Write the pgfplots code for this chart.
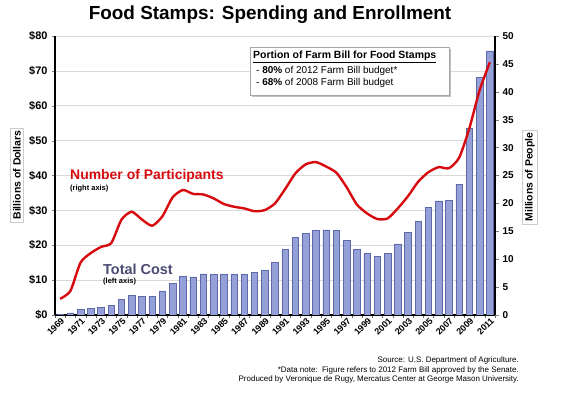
\documentclass[border=0pt]{standalone}
\usepackage{pgfplots}
\usepackage{pgfplotstable}
\pgfplotsset{compat=1.18}
\usepackage{fontspec}
\setmainfont{Liberation Sans}
\definecolor{barfill}{RGB}{148,160,215}
\definecolor{bardraw}{RGB}{95,105,170}
\definecolor{linered}{RGB}{215,10,15}
\definecolor{costcol}{RGB}{75,75,115}
\pgfplotstableread{
year cost people
1969 0.25 2.9
1970 0.58 4.3
1971 1.6 9.4
1972 1.8 11.1
1973 2.2 12.2
1974 2.8 12.9
1975 4.5 17.1
1976 5.6 18.5
1977 5.4 17.1
1978 5.4 16.0
1979 6.9 17.7
1980 9.0 21.1
1981 11.1 22.4
1982 10.9 21.7
1983 11.8 21.6
1984 11.6 20.9
1985 11.6 19.9
1986 11.6 19.4
1987 11.6 19.1
1988 12.3 18.6
1989 12.8 18.8
1990 15.1 20.0
1991 18.7 22.6
1992 22.3 25.4
1993 23.4 27.0
1994 24.3 27.4
1995 24.4 26.6
1996 24.2 25.5
1997 21.3 22.9
1998 18.8 19.8
1999 17.6 18.2
2000 16.9 17.2
2001 17.6 17.3
2002 20.4 19.1
2003 23.6 21.3
2004 26.9 23.9
2005 30.8 25.6
2006 32.7 26.5
2007 32.9 26.3
2008 37.4 28.2
2009 53.4 33.5
2010 68.2 40.3
2011 75.7 45.3
}\datatable
\begin{document}
\begin{tikzpicture}
\useasboundingbox (0,0) rectangle (568bp,393bp);
\begin{axis}[
  at={(55bp,78bp)}, anchor=south west,
  scale only axis, width=440bp, height=279bp,
  xmin=1968.5, xmax=2011.5, ymin=0, ymax=80,
  axis y line*=left, axis x line*=bottom,
  axis line style={black, line width=1.1bp, -},
  ytick={0,10,...,80},
  yticklabels={\$0,\$10,\$20,\$30,\$40,\$50,\$60,\$70,\$80},
  yticklabel style={font=\fontsize{11}{12}\selectfont\bfseries, xshift=-1bp},
  xtick={1969,1971,...,2011},
  minor xtick={1968.5,1969.5,...,2011.5},
  major x tick style={draw=none},
  minor x tick style={black!60},
  /pgf/number format/1000 sep={},
  /pgf/number format/assume math mode=true,
  xticklabel style={rotate=45, anchor=north east, font=\fontsize{9}{9}\selectfont\bfseries, xshift=1.5bp, yshift=1bp, inner sep=0.5bp},
  tick align=outside, major tick length=3bp, minor tick length=3bp,
  ymajorgrids, grid style={black!15, line width=0.6bp},
  ybar, bar width=6.5bp,
]
\addplot[ybar, draw=bardraw, line width=0.6bp, fill=barfill] table[x=year, y=cost] {\datatable};
\end{axis}
\begin{axis}[
  at={(55bp,78bp)}, anchor=south west,
  scale only axis, width=440bp, height=279bp,
  xmin=1968.5, xmax=2011.5, ymin=0, ymax=50,
  axis x line=none, axis y line*=right,
  axis line style={black, line width=1.1bp, -},
  ytick={0,5,...,50},
  /pgf/number format/assume math mode=true,
  yticklabel style={font=\fontsize{10}{11}\selectfont\bfseries},
  tick align=outside, major tick length=4bp,
]
\addplot[linered, line width=2.4bp, smooth, tension=0.4, no markers] table[x=year, y=people] {\datatable};
\end{axis}
% title
\node[font=\fontsize{19}{21}\selectfont\bfseries] at (270bp,378bp) {Food Stamps: Spending and Enrollment};
% y labels
\node[rotate=90, draw=black!20, fill=white, font=\fontsize{10.5}{11}\selectfont\bfseries, inner sep=2.5bp] at (17bp,218bp) {Billions of Dollars};
\node[rotate=90, draw=black!20, fill=white, font=\fontsize{10.5}{11}\selectfont\bfseries, inner sep=2.5bp] at (530bp,216bp) {Millions of People};
% annotations
\node[anchor=west, text=linered, font=\fontsize{14}{15}\selectfont\bfseries, inner sep=0pt] at (70bp,217bp) {Number of Participants};
\node[anchor=west, font=\fontsize{7.5}{8}\selectfont\bfseries, inner sep=0pt] at (70bp,204bp) {(right axis)};
\node[anchor=west, text=costcol, font=\fontsize{14.5}{15}\selectfont\bfseries, inner sep=0pt] at (103bp,124bp) {Total Cost};
\node[anchor=west, font=\fontsize{7.5}{8}\selectfont\bfseries, inner sep=0pt] at (103bp,111bp) {(left axis)};
% info box
\fill[black!25] (252bp,296bp) rectangle (451bp,344bp);
\draw[black!35, fill=white, line width=0.8bp] (250bp,298bp) rectangle (449bp,346bp);
\node[anchor=west, font=\fontsize{10.5}{11}\selectfont\bfseries, inner sep=0pt] at (253bp,336bp) {\underline{Portion of Farm Bill for Food Stamps}};
\node[anchor=west, font=\fontsize{10}{11}\selectfont, inner sep=0pt] at (256bp,322bp) {- \textbf{80\%} of 2012 Farm Bill budget*};
\node[anchor=west, font=\fontsize{10}{11}\selectfont, inner sep=0pt] at (256bp,310bp) {- \textbf{68\%} of 2008 Farm Bill budget};
% notes
\node[anchor=east, font=\fontsize{8}{9}\selectfont, inner sep=0pt] at (519bp,33bp) {Source: U.S. Department of Agriculture.};
\node[anchor=east, font=\fontsize{8}{9}\selectfont, inner sep=0pt] at (519bp,23bp) {*Data note:\ \ Figure refers to 2012 Farm Bill approved by the Senate.};
\node[anchor=east, font=\fontsize{8}{9}\selectfont, inner sep=0pt] at (519bp,14bp) {Produced by Veronique de Rugy, Mercatus Center at George Mason University.};
\end{tikzpicture}
\end{document}
